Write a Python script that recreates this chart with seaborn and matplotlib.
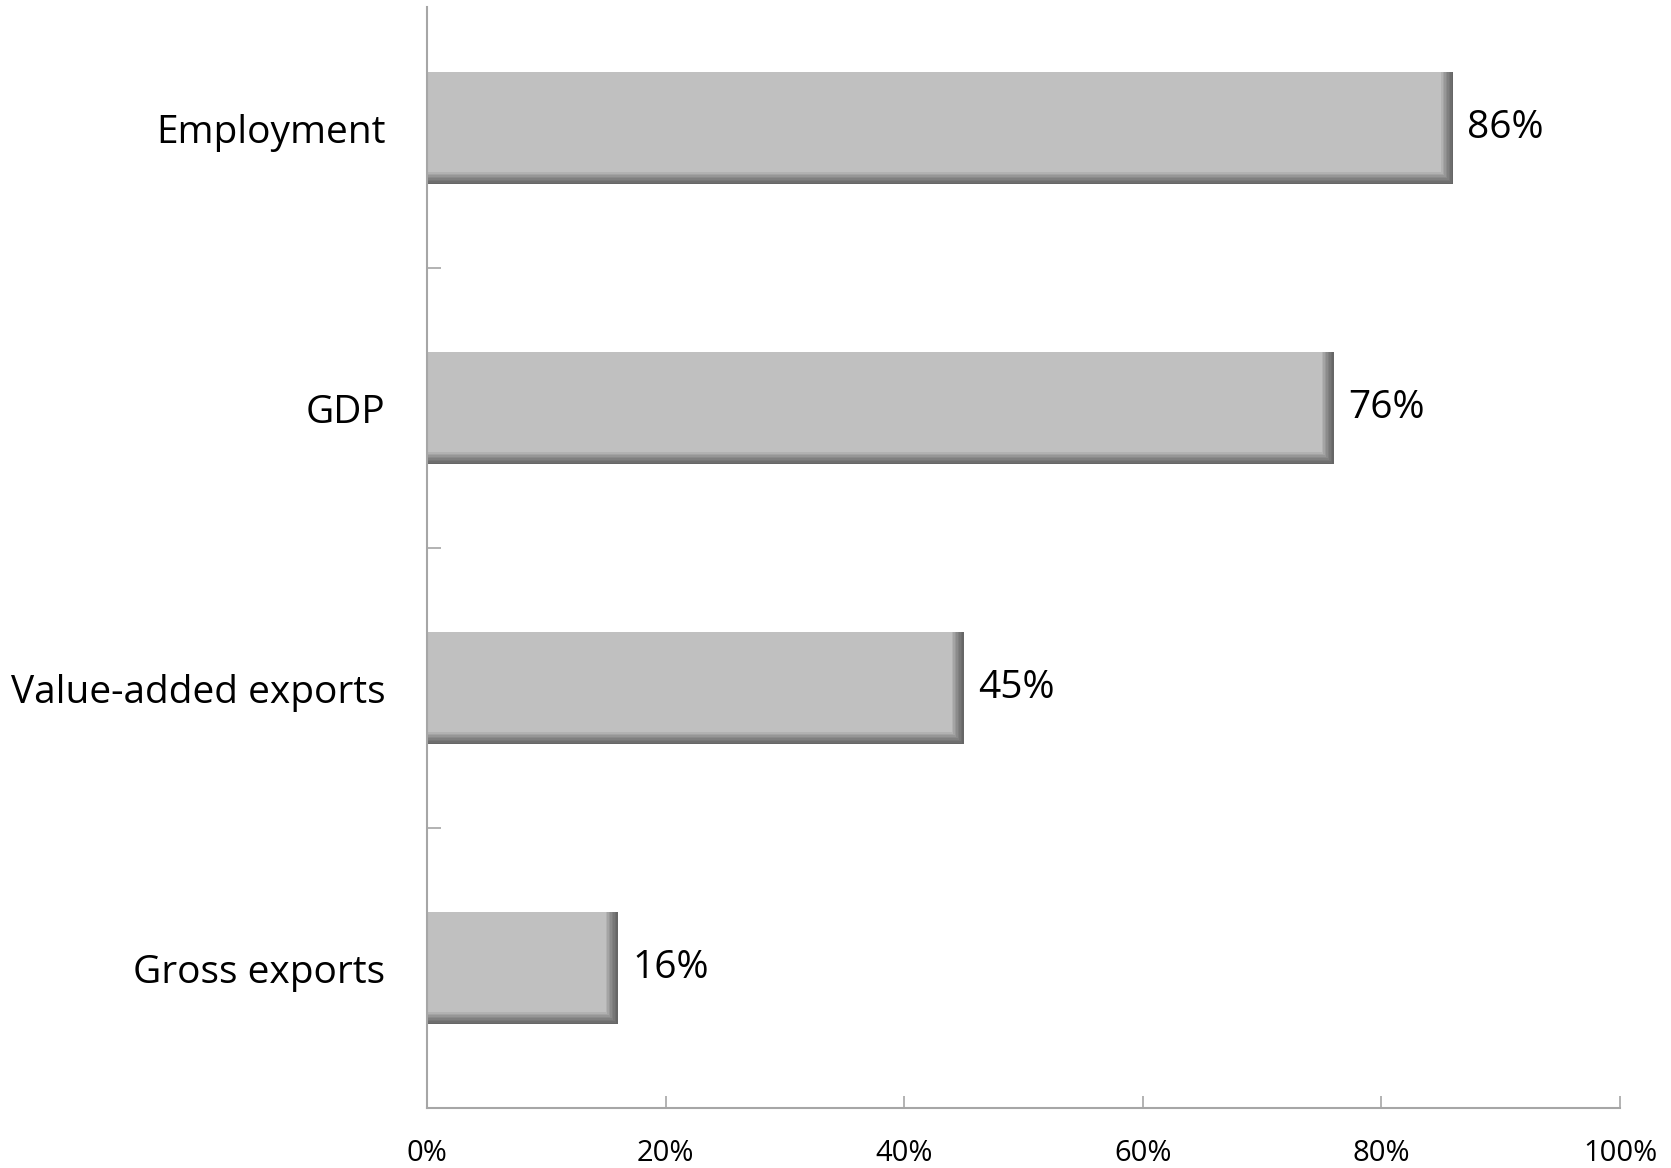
import matplotlib
matplotlib.use("Agg")
import matplotlib.pyplot as plt
from matplotlib.patches import Rectangle
from matplotlib.ticker import FixedLocator, PercentFormatter
import seaborn as sns
import pandas as pd

categories = ["Employment", "GDP", "Value-added exports", "Gross exports"]
shares = [86, 76, 45, 16]
x_ticks = [0, 20, 40, 60, 80, 100]

df = pd.DataFrame({"category": categories, "share": shares})

sns.set_theme(style="white")
plt.rcParams["font.family"] = ["Open Sans", "DejaVu Sans"]

fig = plt.figure(figsize=(16.71, 11.68), dpi=100)
ax = fig.add_axes([0.2555, 0.0514, 0.7140, 0.9426])

# dark base layer gives the bevelled right/bottom edge
sns.barplot(data=df, x="share", y="category", orient="h", color="#666666",
            saturation=1, width=0.4, ax=ax, edgecolor="none")

ax.set_xlim(0, 100)
ax.set_ylim(3.5, -0.434)

fig.canvas.draw()
inv = ax.transData.inverted()
def px_to_data(dx, dy):
    p0 = inv.transform((0, 0))
    p1 = inv.transform((dx, dy))
    return abs(p1[0] - p0[0]), abs(p1[1] - p0[1])

# graded inner layers from the dark edge towards the light face
shades = [(1.5, "#6e6e6e"), (3, "#777777"), (4.5, "#808080"), (6, "#8b8b8b"),
          (7.5, "#979797"), (9, "#a4a4a4"), (10.5, "#b2b2b2"),
          (12, "#c0c0c0")]
for p in list(ax.patches):
    x, y, w, h = p.get_x(), p.get_y(), p.get_width(), p.get_height()
    for k, (inset, col) in enumerate(shades):
        dx, dy = px_to_data(inset, inset)
        ax.add_patch(Rectangle((x, y), w - dx, h - dy, facecolor=col,
                               edgecolor="none",
                               zorder=p.get_zorder() + 0.1 * (k + 1)))

for i, v in enumerate(shares):
    ax.text(v + 1.2, i, f"{v}%", va="center", ha="left", fontsize=28,
            color="black")

ax.xaxis.set_major_locator(FixedLocator(x_ticks))
ax.xaxis.set_major_formatter(PercentFormatter(decimals=0))
ax.yaxis.set_minor_locator(FixedLocator([0.5, 1.5, 2.5]))
ax.set_xlabel("")
ax.set_ylabel("")

for side in ("top", "right"):
    ax.spines[side].set_visible(False)
for side in ("left", "bottom"):
    ax.spines[side].set_color("#a6a6a6")
    ax.spines[side].set_linewidth(1.5)

ax.tick_params(axis="x", direction="in", length=9, width=1.2, color="#a6a6a6",
               labelsize=21, labelcolor="black", pad=22, bottom=True)
ax.tick_params(axis="y", which="major", length=0, labelsize=28,
               labelcolor="black", pad=30)
ax.tick_params(axis="y", which="minor", direction="in", length=10, width=1.2,
               color="#a6a6a6", left=True)

fig.savefig("out.png", dpi=100, facecolor="white")
